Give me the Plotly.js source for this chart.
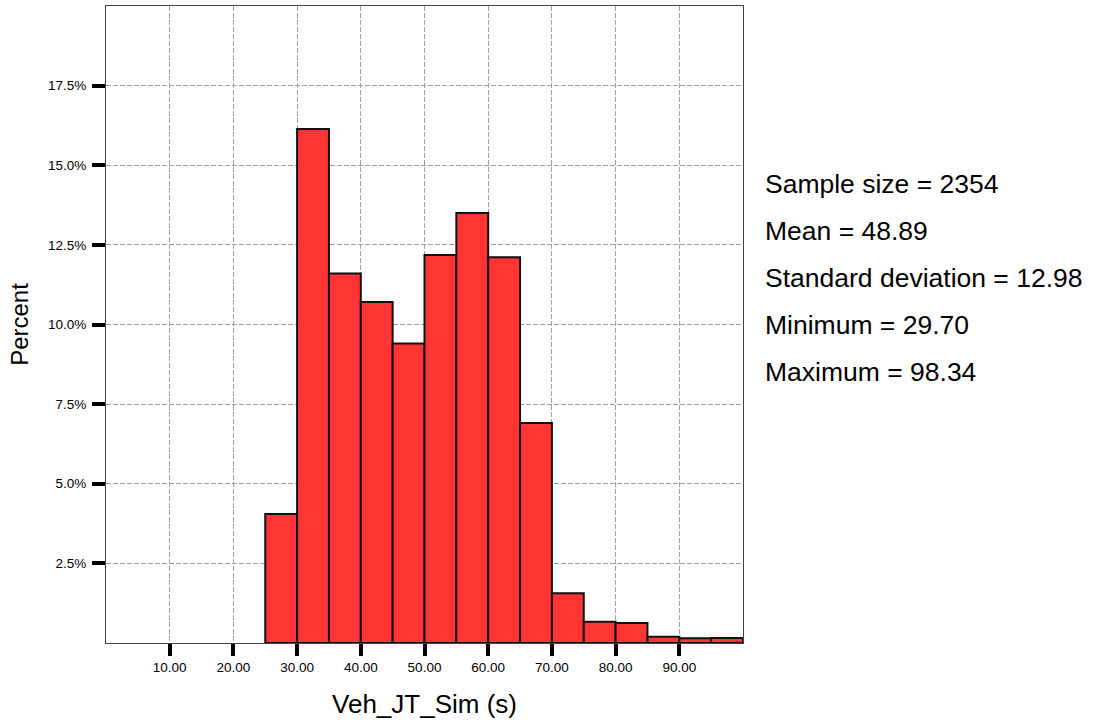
<!DOCTYPE html>
<html>
<head>
<meta charset="utf-8">
<script src="https://cdn.plot.ly/plotly-3.0.1.min.js"></script>
<style>
  html, body { margin: 0; padding: 0; background: #fff; }
  #chart { width: 1094px; height: 722px; }
</style>
</head>
<body>
<div id="chart"></div>
<script>
// Histogram bins (lower edge, width 5) and percent of cases
const binLower = [25, 30, 35, 40, 45, 50, 55, 60, 65, 70, 75, 80, 85, 90, 95];
const percent = [4.05, 16.14, 11.6, 10.71, 9.4, 12.18, 13.5, 12.11, 6.91, 1.56, 0.67, 0.63, 0.2, 0.15, 0.16];
const binWidth = 5;

const xTickVals = [10, 20, 30, 40, 50, 60, 70, 80, 90];
const xTickText = ["10.00", "20.00", "30.00", "40.00", "50.00", "60.00", "70.00", "80.00", "90.00"];
const yTickVals = [2.5, 5, 7.5, 10, 12.5, 15, 17.5];
const yTickText = ["2.5%", "5.0%", "7.5%", "10.0%", "12.5%", "15.0%", "17.5%"];

const statLines = [
  "Sample size = 2354",
  "Mean = 48.89",
  "Standard deviation = 12.98",
  "Minimum = 29.70",
  "Maximum = 98.34"
];

const FONT = "Liberation Sans, Arial, sans-serif";

const trace = {
  type: "bar",
  x: binLower.map(v => v + binWidth / 2),
  y: percent,
  width: binLower.map(() => binWidth),
  marker: { color: "#ff3535", line: { color: "#111111", width: 2 } },
  hoverinfo: "skip"
};

const annotations = statLines.map((t, i) => ({
  text: t,
  xref: "paper", yref: "paper",
  x: 1.032, y: 0.7206 - i * 0.0738,
  xanchor: "left", yanchor: "middle",
  showarrow: false,
  font: { family: FONT, size: 26.5, color: "#000" }
}));

const layout = {
  width: 1094, height: 722,
  margin: { l: 106, r: 351, t: 6, b: 79 },
  paper_bgcolor: "#ffffff",
  plot_bgcolor: "#ffffff",
  showlegend: false,
  bargap: 0,
  font: { family: FONT, color: "#000" },
  xaxis: {
    range: [0, 100],
    tickvals: xTickVals, ticktext: xTickText,
    ticks: "outside", ticklen: 12, tickwidth: 4, tickcolor: "#000",
    tickfont: { family: FONT, size: 13.5, color: "#000" },
    showgrid: true, gridcolor: "#a0a0a0", gridwidth: 1, griddash: "5px,2px",
    showline: true, linecolor: "#444", linewidth: 1, mirror: true,
    zeroline: false,
    title: { text: "Veh_JT_Sim (s)", font: { family: FONT, size: 26, color: "#000" }, standoff: 20 },
    fixedrange: true
  },
  yaxis: {
    range: [0, 20],
    tickvals: yTickVals, ticktext: yTickText,
    ticks: "outside", ticklen: 13, tickwidth: 4, tickcolor: "#000",
    ticklabelstandoff: 3,
    tickfont: { family: FONT, size: 13.5, color: "#000" },
    showgrid: true, gridcolor: "#a0a0a0", gridwidth: 1, griddash: "5px,2px",
    showline: true, linecolor: "#444", linewidth: 1, mirror: true,
    zeroline: false,
    title: { text: "Percent", font: { family: FONT, size: 24, color: "#000" }, standoff: 12 },
    fixedrange: true
  },
  annotations: annotations
};

Plotly.newPlot("chart", [trace], layout, { staticPlot: true, displayModeBar: false });
</script>
</body>
</html>
